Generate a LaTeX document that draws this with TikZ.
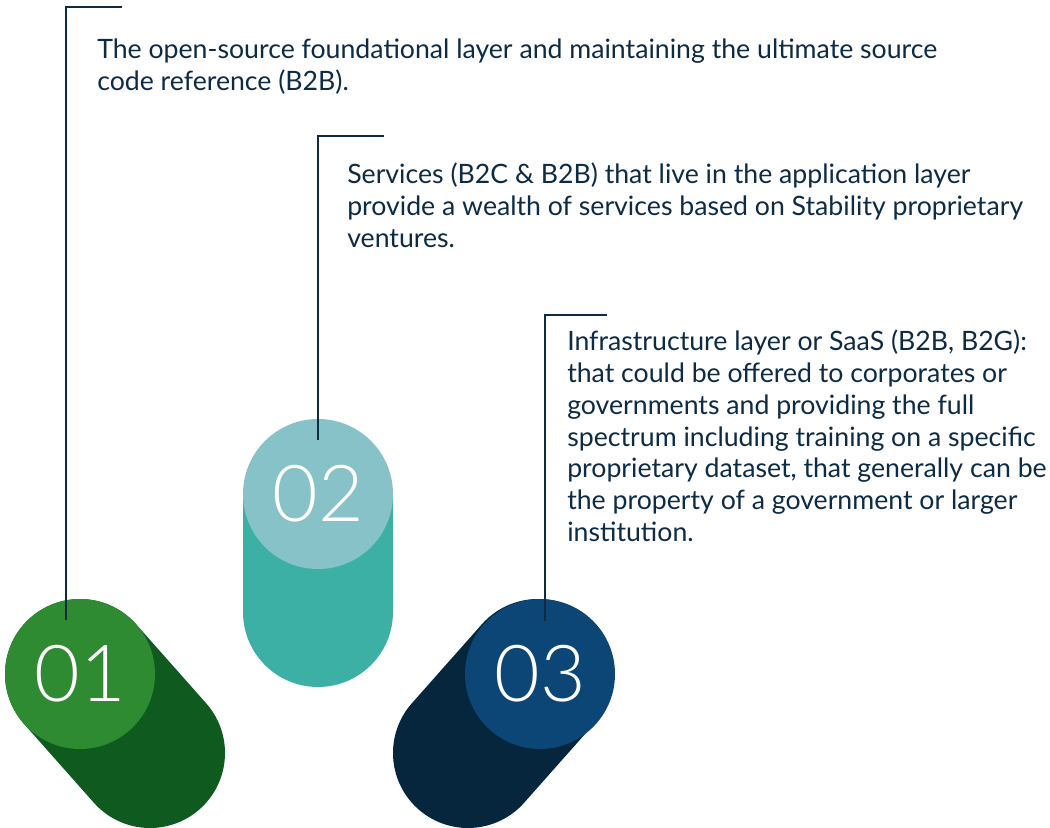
\documentclass[tikz,border=0pt]{standalone}
\usepackage{fontspec}
\setmainfont{Lato}
\newfontfamily\numfont{Lato Light}
\usetikzlibrary{positioning}

\definecolor{ink}{HTML}{0D2B45}
\definecolor{greenTop}{HTML}{2F8B32}
\definecolor{greenShade}{HTML}{0F5A1E}
\definecolor{tealTop}{HTML}{88C2C9}
\definecolor{tealShade}{HTML}{3DB0A6}
\definecolor{navyTop}{HTML}{0B4677}
\definecolor{navyShade}{HTML}{05263D}

\begin{document}
\begin{tikzpicture}[x=0.75pt,y=-0.75pt]

% Stili
\tikzset{
  disc/.style={circle, inner sep=0pt, minimum size=112.5pt, text=white,
    font=\numfont\fontsize{59}{59}\selectfont},
  capsule/.style={line width=112.5pt, line cap=round},
  leader/.style={draw=ink, line width=1.9pt},
  blurb/.style={anchor=north west, inner sep=0pt, align=left, text=ink,
    font=\fontsize{20}{23.8}\selectfont}
}

\useasboundingbox (0,0) rectangle (1050,828);

% --- Ombre a capsula ---
\draw[capsule, greenShade] (80,674) -- (150,753);
\draw[capsule, tealShade] (318,503) -- (318,612);
\draw[capsule, navyShade] (538,674) -- (468,753);

% --- Dischi numerati ---
\node[disc, fill=greenTop] (c1) at (80,674) {01};
\node[disc, fill=tealTop] (c2) at (318,494) {02};
\node[disc, fill=navyTop] (c3) at (540,674) {03};

% --- Linee guida ---
\coordinate (h1) at (122,7);   \coordinate (k1) at (66,7);   \coordinate (e1) at (66,620);
\coordinate (h2) at (384,136); \coordinate (k2) at (318,136); \coordinate (e2) at (318,440);
\coordinate (h3) at (607,315); \coordinate (k3) at (545,315); \coordinate (e3) at (545,621);
\draw[leader] (h1) -- (k1) -- (e1);
\draw[leader] (h2) -- (k2) -- (e2);
\draw[leader] (h3) -- (k3) -- (e3);

% --- Testi ---
\node[blurb] (t1) at (97,39) {The open-source foundational layer and maintaining the ultimate source\\
  code reference (B2B).};
\node[blurb] (t2) at (347,163) {Services (B2C \& B2B) that live in the application layer\\
  provide a wealth of services based on Stability proprietary\\
  ventures.};
\node[blurb] (t3) at (567,330) {Infrastructure layer or SaaS (B2B, B2G):\\
  that could be offered to corporates or\\
  governments and providing the full\\
  spectrum including training on a specific\\
  proprietary dataset, that generally can be\\
  the property of a government or larger\\
  institution.};

\end{tikzpicture}
\end{document}
